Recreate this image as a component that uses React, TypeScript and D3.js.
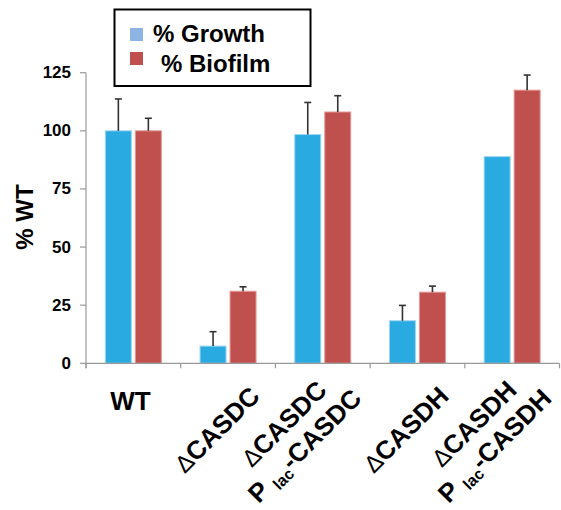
import React from "react";
import * as d3 from "d3";

const categoryLine1 = ["WT", "\u0394CASDC", "\u0394CASDC", "\u0394CASDH", "\u0394CASDH"];
const categoryLine2 = ["", "", "-CASDC", "", "-CASDH"];
const seriesNames = ["% Growth", "% Biofilm"];
const growth = [100, 7.4, 98.4, 18.3, 88.9];
const growthErr = [13.7, 6.2, 13.8, 6.6, 0];
const biofilm = [100, 31.0, 108.1, 30.6, 117.5];
const biofilmErr = [5.4, 1.9, 7.0, 2.6, 6.5];
const yTicks = [0, 25, 50, 75, 100, 125];

const FONT = "'Liberation Sans', Arial, Helvetica, sans-serif";
const BAR_COLORS = ["#29abe2", "#c0504d"];
const BAR_STROKES = ["#9fd4f2", "#e49a98"];
const LEGEND_COLORS = ["#8db4e2", "#c0504d"];

export default function App() {
  const x = d3.scaleBand<number>().domain(d3.range(categoryLine1.length)).range([86, 559.5]).padding(0);
  const y = d3.scaleLinear().domain([0, 125]).range([363.3, 72.7]);
  const xs = d3.scaleBand<number>().domain([0, 1]).range([-28, 28]).paddingInner(0.133).paddingOuter(0);
  const values = [growth, biofilm];
  const errs = [growthErr, biofilmErr];
  const bw = xs.bandwidth();
  const boundaries = d3.range(categoryLine1.length + 1).map((i) => 86 + i * x.step());
  const c45 = Math.SQRT1_2;

  const labelDivs: React.ReactNode[] = [];
  categoryLine1.forEach((l1, i) => {
    if (i === 0) return;
    const cx = (x(i) as number) + x.bandwidth() / 2;
    const two = categoryLine2[i] !== "";
    const ax = two ? cx - 22 : cx - 5.5;
    const ay = two ? 441 : 436;
    const lines = two ? [[ax - 15 * c45, ay - 15 * c45, 1], [ax + 15 * c45, ay + 15 * c45, 2]] : [[ax, ay, 1]];
    lines.forEach(([lx, ly, k]) => {
      labelDivs.push(
        <div key={`hl${i}-${k}`} style={{ position: "absolute", left: lx, top: ly, width: 0, height: 0 }}>
          <div style={{ position: "absolute", left: 0, top: 0, transform: "rotate(-45deg)", transformOrigin: "0 0" }}>
            <div style={{
              position: "absolute", left: 0, top: -22, transform: "translateX(-50%)", whiteSpace: "nowrap",
              fontFamily: FONT, fontWeight: "bold", fontSize: 26, lineHeight: "26px", color: "#000",
            }}>
              {k === 1 ? (
                <>
                  <span style={{ fontWeight: "normal", fontSize: 24 }}>{l1.charAt(0)}</span>
                  <span>{l1.slice(1)}</span>
                </>
              ) : (
                <>
                  <span>P </span>
                  <span style={{ fontSize: 16, position: "relative", top: 5 }}>lac</span>
                  <span>{categoryLine2[i]}</span>
                </>
              )}
            </div>
          </div>
        </div>
      );
    });
  });

  return (
    <div style={{ position: "absolute", left: 0, top: 0, width: 561, height: 510, background: "#fff", overflow: "hidden" }}>
      <svg width={561} height={510} style={{ position: "absolute", left: 0, top: 0 }} fontFamily={FONT}>
        <rect x={0} y={0} width={561} height={510} fill="#fff" />
        {values.map((vals, s) =>
          vals.map((v, i) => {
            const cx = (x(i) as number) + x.bandwidth() / 2;
            const bx = cx + (xs(s) as number);
            return (
              <rect key={`b${s}-${i}`} x={bx} y={y(v)} width={bw} height={y(0) - y(v)}
                fill={BAR_COLORS[s]} stroke={BAR_STROKES[s]} strokeWidth={1} />
            );
          })
        )}
        {values.map((vals, s) =>
          vals.map((v, i) => {
            const e = errs[s][i];
            if (!e) return null;
            const cx = (x(i) as number) + x.bandwidth() / 2 + (xs(s) as number) + bw / 2;
            return (
              <g key={`e${s}-${i}`} stroke="#333" strokeWidth={1.6}>
                <line x1={cx} x2={cx} y1={y(v)} y2={y(v + e)} />
                <line x1={cx - 3.5} x2={cx + 3.5} y1={y(v + e)} y2={y(v + e)} />
              </g>
            );
          })
        )}
        <g stroke="#999" strokeWidth={1.2} fill="none">
          <line x1={86} x2={86} y1={y(125)} y2={y(0) + 5} />
          <line x1={86} x2={559.5} y1={y(0)} y2={y(0)} />
          {yTicks.map((t) => (
            <line key={`yt${t}`} x1={80} x2={86} y1={y(t)} y2={y(t)} />
          ))}
          {boundaries.map((b, i) => (
            <line key={`xt${i}`} x1={b} x2={b} y1={y(0)} y2={y(0) + 5} />
          ))}
        </g>
        {yTicks.map((t) => (
          <text key={`yl${t}`} x={71} y={y(t)} textAnchor="end" dominantBaseline="central"
            fontSize={17} fontWeight="bold" fill="#000">{t}</text>
        ))}
        <text x={33} y={217} transform="rotate(-90 33 217)" textAnchor="middle" fontSize={24} fontWeight="bold" fill="#000">% WT</text>
        <text x={(x(0) as number) + x.bandwidth() / 2 - 3} y={410} textAnchor="middle" fontSize={26} fontWeight="bold" fill="#000">{categoryLine1[0]}</text>
        <rect x={114.5} y={9.5} width={196} height={76.5} fill="#fff" stroke="#000" strokeWidth={2} />
        {seriesNames.map((n, s) => (
          <g key={`lg${s}`}>
            <rect x={130} y={28 + s * 24} width={13} height={13} fill={LEGEND_COLORS[s]} />
            <text x={s === 0 ? 153 : 161} y={42 + s * 29.5} fontSize={24} fontWeight="bold" fill="#000">{n}</text>
          </g>
        ))}
      </svg>
      {labelDivs}
    </div>
  );
}
